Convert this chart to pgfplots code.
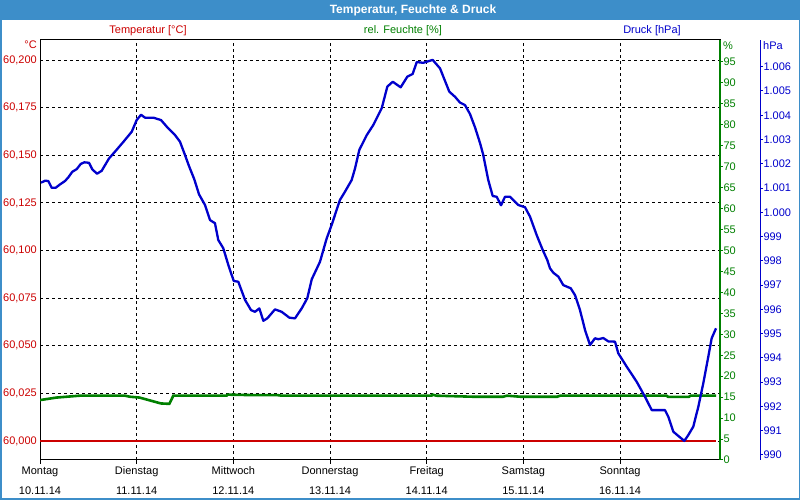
\documentclass[border=0pt]{standalone}
\usepackage{pgfplots}
\pgfplotsset{compat=1.18}
\usepackage{fontspec}
\setmainfont{Liberation Sans}
\definecolor{barblue}{RGB}{61,142,201}
\definecolor{tred}{RGB}{204,0,0}
\definecolor{hgreen}{RGB}{0,128,0}
\definecolor{pblue}{RGB}{0,0,204}
\pgfplotsset{every tick label/.append style={font=\fontsize{11}{13}\selectfont}}
\begin{document}
\fontsize{11}{13}\selectfont
\begin{tikzpicture}[x=1pt,y=1pt]
\path[use as bounding box, fill=white] (0,0) rectangle (800,500);
\fill[barblue] (0,480) rectangle (800,500);
\draw[barblue, line width=1.5pt] (0.75,0.75) rectangle (799.25,499.25);
\node[white, font=\fontsize{12}{14}\selectfont\bfseries] at (413,490) {Temperatur, Feuchte \& Druck};
\node[tred] at (148,469) {Temperatur [°C]};
\node[hgreen] at (403,469) {rel. Feuchte [\%]};
\node[pblue] at (652,469) {Druck [hPa]};
\node[tred, anchor=east, inner sep=0pt] at (37,455) {°C};
\node[hgreen, anchor=west, inner sep=0pt] at (723,454) {\%};
\node[pblue, anchor=west, inner sep=0pt] at (763,454) {hPa};

% --- Temperature axis (left), grid and frame
\begin{axis}[
  at={(40pt,40pt)}, anchor=south west, scale only axis,
  width=680pt, height=420pt,
  xmin=0, xmax=7.034, ymin=59.99003, ymax=60.2105,
  axis line style={black, line width=1pt},
  tick pos=left,
  xtick={0,1,2,3,4,5,6},
  xticklabels={{Montag\\[7pt]10.11.14},{Dienstag\\[7pt]11.11.14},{Mittwoch\\[7pt]12.11.14},{Donnerstag\\[7pt]13.11.14},{Freitag\\[7pt]14.11.14},{Samstag\\[7pt]15.11.14},{Sonntag\\[7pt]16.11.14}},
  xticklabel style={align=center, yshift=1pt},
  xtick align=outside, major tick length=4pt,
  xtick style={black, line width=1pt},
  ytick={60,60.025,60.05,60.075,60.1,60.125,60.15,60.175,60.2},
  yticklabels={{60,000},{60,025},{60,050},{60,075},{60,100},{60,125},{60,150},{60,175},{60,200}},
  ytick align=inside, ytick style={draw=none},
  yticklabel style={tred, inner sep=0pt, xshift=-3pt},
  grid=major,
  major grid style={black, dash pattern=on 3pt off 3pt, line width=0.9pt},
  scaled y ticks=false,
]
\addplot[tred, line width=2.6pt] coordinates {(0,60.000) (6.993,60.000)};
\end{axis}

% --- Humidity axis (right, green)
\begin{axis}[
  at={(40pt,40pt)}, anchor=south west, scale only axis,
  width=680pt, height=420pt,
  xmin=0, xmax=7.034, ymin=0, ymax=100.25,
  hide x axis, axis y line*=right,
  y axis line style={hgreen, line width=1.3pt},
  ytick={0,5,...,95},
  ytick style={hgreen, line width=1pt},
  tick align=outside, major tick length=2.5pt,
  yticklabel style={hgreen, inner sep=0pt, xshift=0.8pt, anchor=west},
  /pgf/number format/assume math mode=true,
]
\addplot[hgreen, line width=2.6pt] coordinates {
(0,14.3) (0.17,14.9) (0.41,15.35) (0.88,15.35) (0.93,15.1) (1.03,14.9)
(1.25,13.5) (1.338,13.4) (1.379,15.35) (1.93,15.35) (1.94,15.6) (2.17,15.5)
(2.45,15.5) (2.5,15.35) (4.05,15.35) (4.06,15.6) (4.1,15.35) (4.48,15.1)
(4.79,15.1) (4.83,15.35) (4.97,15.1) (5.35,15.1) (5.38,15.35) (6.48,15.35)
(6.5,15.05) (6.71,15.05) (6.73,15.35) (6.993,15.35)};
\end{axis}

% --- Pressure axis (far right, blue)
\begin{axis}[
  at={(40pt,40pt)}, anchor=south west, scale only axis,
  width=720pt, height=420pt,
  xmin=0, xmax=7.448, ymin=989.794, ymax=1007.10,
  hide x axis, axis y line*=right,
  y axis line style={pblue, line width=1pt},
  ytick={990,991,992,993,994,995,996,997,998,999,1000,1001,1002,1003,1004,1005,1006},
  yticklabels={990,991,992,993,994,995,996,997,998,999,1.000,1.001,1.002,1.003,1.004,1.005,1.006},
  ytick style={pblue, line width=1pt},
  tick align=outside, major tick length=2.5pt,
  yticklabel style={pblue, inner sep=0pt, xshift=0.8pt, anchor=west},
  clip=false,
]
\addplot[pblue, line width=2.3pt, line join=round] coordinates {
(0.010,1001.22) (0.052,1001.30) (0.086,1001.29) (0.121,1001.01) (0.162,1001.01)
(0.207,1001.15) (0.259,1001.29) (0.293,1001.44) (0.334,1001.67) (0.380,1001.78)
(0.421,1001.99) (0.458,1002.06) (0.507,1002.04) (0.541,1001.77) (0.590,1001.59)
(0.638,1001.71) (0.714,1002.22) (0.776,1002.50) (0.862,1002.90) (0.949,1003.32)
(1.000,1003.80) (1.045,1004.02) (1.086,1003.90) (1.172,1003.90) (1.252,1003.80)
(1.311,1003.53) (1.397,1003.18) (1.448,1002.91) (1.500,1002.36) (1.541,1001.91)
(1.596,1001.36) (1.645,1000.74) (1.707,1000.30) (1.759,999.68) (1.810,999.55)
(1.844,998.86) (1.896,998.52) (1.948,997.83) (2.004,997.17) (2.051,997.14)
(2.121,996.39) (2.183,995.97) (2.224,995.90) (2.269,996.04) (2.310,995.53)
(2.351,995.63) (2.431,996.00) (2.500,995.90) (2.579,995.66) (2.638,995.63)
(2.707,996.04) (2.765,996.46) (2.811,997.24) (2.896,997.96) (2.966,998.93)
(3.017,999.48) (3.062,1000.02) (3.103,1000.51) (3.155,1000.85) (3.224,1001.33)
(3.259,1001.81) (3.303,1002.57) (3.380,1003.18) (3.448,1003.60) (3.535,1004.29)
(3.593,1005.18) (3.649,1005.38) (3.731,1005.15) (3.800,1005.59) (3.855,1005.70)
(3.897,1006.19) (3.965,1006.16) (4.062,1006.28) (4.138,1005.93) (4.234,1004.97)
(4.293,1004.76) (4.345,1004.52) (4.396,1004.42) (4.448,1004.05) (4.500,1003.50)
(4.552,1002.85) (4.583,1002.40) (4.637,1001.33) (4.683,1000.67) (4.724,1000.64)
(4.769,1000.29) (4.810,1000.64) (4.862,1000.64) (4.948,1000.30) (5.017,1000.21)
(5.069,999.82) (5.138,999.06) (5.200,998.45) (5.248,998.03) (5.276,997.69)
(5.310,997.51) (5.362,997.35) (5.413,997.00) (5.490,996.87) (5.534,996.59)
(5.586,995.97) (5.638,995.15) (5.690,994.53) (5.741,994.81) (5.775,994.77)
(5.827,994.82) (5.879,994.68) (5.948,994.67) (5.982,994.19) (6.069,993.64)
(6.172,993.02) (6.258,992.40) (6.328,991.85) (6.379,991.85) (6.465,991.85)
(6.499,991.58) (6.551,990.96) (6.620,990.73) (6.665,990.58) (6.706,990.82)
(6.758,991.17) (6.810,991.99) (6.861,992.95) (6.913,994.05) (6.948,994.81)
(6.993,995.22)};
\end{axis}
\end{tikzpicture}
\end{document}
